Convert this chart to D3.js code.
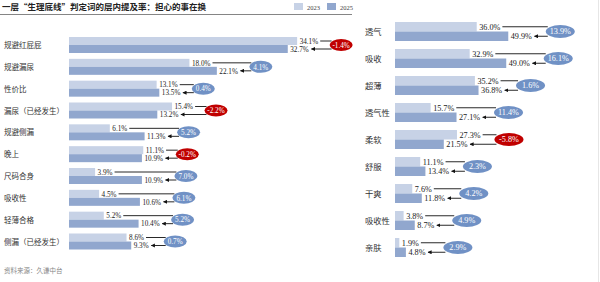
<!DOCTYPE html>
<html><head><meta charset="utf-8">
<script src="https://cdn.jsdelivr.net/npm/d3@7"></script>
<style>
html,body{margin:0;padding:0;background:#fff;}
svg{display:block;}
</style></head>
<body>
<svg id="c" width="600" height="282"></svg>
<script>
const title = "一层“生理底线”判定词的层内提及率：担心的事在换";
const source = "资料来源：久谦中台";
const years = ["2023","2025"];

const leftCats = ["规避红屁屁","规避漏尿","性价比","漏尿（已经发生）","规避侧漏","晚上","尺码合身","吸收性","轻薄合格","侧漏（已经发生）"];
const left2023 = [34.1,18.0,13.1,15.4,6.1,11.1,3.9,4.5,5.2,8.6];
const left2025 = [32.7,22.1,13.5,13.2,11.3,10.9,10.9,10.6,10.4,9.3];
const leftChange = [-1.4,4.1,0.4,-2.2,5.2,-0.2,7.0,6.1,5.2,0.7];

const rightCats = ["透气","吸收","超薄","透气性","柔软","舒服","干爽","吸收性","亲肤"];
const right2023 = [36.0,32.9,35.2,15.7,27.3,11.1,7.6,3.8,1.9];
const right2025 = [49.9,49.0,36.8,27.1,21.5,13.4,11.8,8.7,4.8];
const rightChange = [13.9,16.1,1.6,11.4,-5.8,2.3,4.2,4.9,2.9];

const C23 = "#c7d2e6", C25 = "#91a7ce", BLUE = "#7091c5", RED = "#c00000";
const CJK = "'Noto Sans CJK SC', sans-serif";
const NUM = "'Liberation Serif', 'DejaVu Serif', serif";

const svg = d3.select("#c");
const defs = svg.append("defs");
defs.append("marker").attr("id","arr").attr("viewBox","0 0 10 10")
  .attr("refX",9).attr("refY",5).attr("markerWidth",4.5).attr("markerHeight",4.5)
  .attr("orient","auto-start-reverse")
  .append("path").attr("d","M0,0 L10,5 L0,10 z").attr("fill","#111");

// title
svg.append("text").attr("x",2).attr("y",10).attr("font-family",CJK).attr("font-weight","bold")
  .attr("font-size",8.5).attr("fill","#222").text(title);
svg.append("line").attr("x1",0).attr("x2",352).attr("y1",14.5).attr("y2",14.5)
  .attr("stroke","#666").attr("stroke-width",0.8);

// legend
const lg = svg.append("g");
years.forEach((y,i)=>{
  const gx = 294 + i*33;
  lg.append("rect").attr("x",gx).attr("y",3).attr("width",9).attr("height",7).attr("fill",i?C25:C23);
  lg.append("text").attr("x",gx+13).attr("y",9.5).attr("font-family",NUM).attr("font-size",6.5)
    .attr("fill","#444").text(y);
});

svg.append("text").attr("x",4).attr("y",273).attr("font-family",CJK).attr("font-size",6.5)
  .attr("fill","#888").text(source);

svg.append("line").attr("x1",598.5).attr("x2",598.5).attr("y1",0).attr("y2",282)
  .attr("stroke","#e6e6e6").attr("stroke-width",1);

function fmt(v){ return v.toFixed(1)+"%"; }

function panel(cfg){
  const {cats,v23,v25,chg,x,y,bh,labelX,fs,nfs,off,rx,ry} = cfg;
  const g = svg.append("g");
  cats.forEach((c,i)=>{
    const cy = y(c);
    g.append("text").attr("x",labelX).attr("y",cy+3).attr("font-family",CJK)
      .attr("font-size",fs).attr("fill","#333").text(c);
    g.append("rect").attr("x",x(0)).attr("y",cy-bh).attr("width",x(v23[i])-x(0)).attr("height",bh).attr("fill",C23);
    g.append("rect").attr("x",x(0)).attr("y",cy).attr("width",x(v25[i])-x(0)).attr("height",bh).attr("fill",C25);
    const t1 = g.append("text").attr("x",x(v23[i])+2.5).attr("y",cy-bh/2+2.8).attr("font-family",NUM)
      .attr("font-size",nfs).attr("fill","#222").text(fmt(v23[i]));
    const t2 = g.append("text").attr("x",x(v25[i])+2.5).attr("y",cy+bh/2+2.8).attr("font-family",NUM)
      .attr("font-size",nfs).attr("fill","#222").text(fmt(v25[i]));
    const e1 = x(v23[i])+2.5+t1.node().getComputedTextLength();
    const e2 = x(v25[i])+2.5+t2.node().getComputedTextLength();
    const bx = x(Math.max(v23[i],v25[i])) + off;
    g.append("line").attr("x1",e1+2).attr("x2",bx-rx+2).attr("y1",cy-bh/2).attr("y2",cy-bh/2)
      .attr("stroke","#111").attr("stroke-width",0.9);
    g.append("line").attr("x1",bx-rx+2).attr("x2",e2+2.5).attr("y1",cy+bh/2).attr("y2",cy+bh/2)
      .attr("stroke","#111").attr("stroke-width",0.9).attr("marker-end","url(#arr)");
    g.append("ellipse").attr("cx",bx).attr("cy",cy).attr("rx",rx).attr("ry",ry)
      .attr("fill",chg[i]<0?RED:BLUE);
    g.append("text").attr("x",bx).attr("y",cy+2.8).attr("text-anchor","middle").attr("font-family",NUM)
      .attr("font-size",nfs).attr("fill","#fff").text(fmt(chg[i]));
  });
}

panel({
  cats:leftCats, v23:left2023, v25:left2025, chg:leftChange,
  x:d3.scaleLinear().domain([0,50]).range([69,403.5]),
  y:d3.scalePoint().domain(leftCats).range([45,241.5]),
  bh:8, labelX:4, fs:7.5, nfs:7.2, off:44, rx:11.5, ry:6
});
panel({
  cats:rightCats, v23:right2023, v25:right2025, chg:rightChange,
  x:d3.scaleLinear().domain([0,50]).range([395,508.5]),
  y:d3.scalePoint().domain(rightCats).range([31.5,247.5]),
  bh:9.5, labelX:365, fs:8.3, nfs:8.2, off:52, rx:14.5, ry:6.5
});
</script>
</body></html>
